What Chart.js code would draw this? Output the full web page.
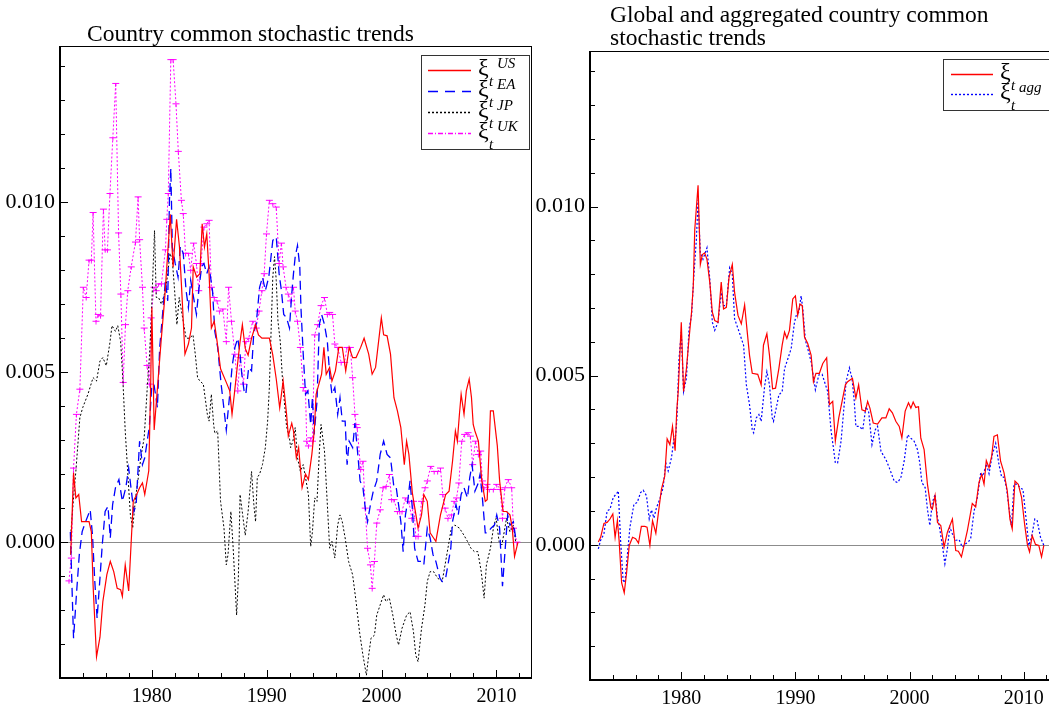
<!DOCTYPE html>
<html>
<head>
<meta charset="utf-8">
<script src="https://cdn.jsdelivr.net/npm/chart.js@4/dist/chart.umd.min.js"></script>
<style>
html, body { margin: 0; padding: 0; background: #fff; overflow: hidden; width: 1049px; height: 709px; position: relative; }
canvas { position: absolute; top: 0; }
#leftchart { left: 0; }
#rightchart { left: 530px; }
</style>
</head>
<body>
<canvas id="leftchart" width="540" height="709"></canvas>
<canvas id="rightchart" width="540" height="709"></canvas>
<script>
// ---- left panel: country common stochastic trends ----
var usYears = [1972.93,1973.18,1973.38,1973.63,1973.88,1974.28,1974.53,1974.73,1974.88,1975.18,
  1975.48,1975.73,1976.08,1976.38,1976.68,1976.98,1977.28,1977.43,1977.68,1977.98,
  1978.38,1978.68,1978.93,1979.18,1979.38,1979.73,1979.9,1980.0,1980.2,1980.5,
  1980.8,1981.1,1981.38,1981.6,1981.85,1982.15,1982.4,1982.6,1982.88,1983.18,
  1983.45,1983.6,1983.9,1984.18,1984.38,1984.58,1984.78,1984.98,1985.18,1985.43,
  1985.68,1985.98,1986.48,1986.78,1986.98,1987.18,1987.48,1987.68,1987.88,1988.13,
  1988.38,1988.68,1989.03,1989.28,1989.58,1989.93,1990.23,1990.53,1990.83,1991.13,
  1991.43,1991.73,1991.88,1992.18,1992.33,1992.58,1992.78,1993.08,1993.38,1993.63,
  1993.93,1994.14,1994.3,1994.78,1994.98,1995.18,1995.48,1995.68,1995.98,1996.28,
  1996.58,1996.88,1997.18,1997.48,1997.78,1998.18,1998.48,1998.88,1999.18,1999.48,
  1999.98,2000.18,2000.48,2000.78,2001.08,2001.38,2001.68,2001.98,2002.18,2002.38,
  2002.68,2003.18,2003.48,2003.68,2003.98,2004.23,2004.53,2004.73,2005.13,2005.58,
  2005.88,2006.18,2006.43,2006.6,2006.78,2006.93,2007.18,2007.38,2007.63,2007.83,
  2007.98,2008.13,2008.43,2008.73,2009.03,2009.2,2009.48,2009.73,2010.08,2010.28,
  2010.58,2010.88,2011.18,2011.38,2011.58,2011.88];
var usVals = [-0.37e-3,2.04e-3,1.3e-3,1.4e-3,0.6e-3,0.6e-3,0.6e-3,0.3e-3,-1.26e-3,-3.38e-3,
  -2.8e-3,-1.75e-3,-0.96e-3,-0.57e-3,-0.87e-3,-1.36e-3,-1.4e-3,-1.6e-3,-0.67e-3,-1.44e-3,
  1.2e-3,1.4e-3,1.6e-3,1.74e-3,1.4e-3,2.1e-3,4.7e-3,6.9e-3,3.3e-3,4.6e-3,
  5.9e-3,7.1e-3,8.5e-3,9.65e-3,8.1e-3,9.5e-3,8.7e-3,7.4e-3,5.53e-3,5.83e-3,
  6.3e-3,8.1e-3,7.8e-3,7.9e-3,9.37e-3,8.68e-3,9.07e-3,7.9e-3,6.3e-3,6.5e-3,
  5.9e-3,5.1e-3,4.7e-3,4.45e-3,3.76e-3,4.35e-3,5.3e-3,5.9e-3,6.4e-3,5.7e-3,
  5.5e-3,6.0e-3,6.4e-3,6.1e-3,6.0e-3,6.0e-3,6.0e-3,5.5e-3,4.8e-3,3.95e-3,
  4.74e-3,3.76e-3,3.12e-3,3.5e-3,3.27e-3,2.48e-3,2.78e-3,1.6e-3,2.0e-3,1.84e-3,
  2.58e-3,3.27e-3,4.35e-3,4.94e-3,5.73e-3,4.94e-3,5.14e-3,4.74e-3,5.04e-3,5.73e-3,
  5.73e-3,5.04e-3,5.73e-3,5.43e-3,5.43e-3,5.73e-3,6.0e-3,5.53e-3,4.94e-3,5.14e-3,
  6.6e-3,6.1e-3,6.07e-3,5.53e-3,4.25e-3,3.86e-3,3.37e-3,2.28e-3,2.97e-3,2.58e-3,
  1.45e-3,0.41e-3,0.8e-3,1.4e-3,1.2e-3,0.27e-3,0.12e-3,0.02e-3,0.8e-3,1.4e-3,
  1.5e-3,2.38e-3,3.27e-3,2.97e-3,3.76e-3,4.35e-3,3.76e-3,4.45e-3,4.8e-3,4.25e-3,
  3.46e-3,3.27e-3,2.97e-3,1.8e-3,1.2e-3,1.25e-3,3.86e-3,3.86e-3,2.83e-3,1.8e-3,
  0.9e-3,0.9e-3,0.8e-3,0.41e-3,-0.42e-3,0];

var eaYears = [1972.9,1973.18,1973.43,1973.68,1973.93,1974.23,1974.63,1974.83,1975.03,1975.23,
  1975.48,1975.68,1975.93,1976.18,1976.38,1976.58,1976.83,1977.13,1977.43,1977.73,
  1977.98,1978.18,1978.43,1978.63,1978.93,1979.18,1979.38,1979.78,1979.98,1980.18,
  1980.48,1980.68,1980.88,1981.18,1981.38,1981.53,1981.65,1981.78,1982.03,1982.28,
  1982.48,1982.73,1982.98,1983.18,1983.38,1983.63,1983.88,1984.08,1984.33,1984.53,
  1984.78,1984.98,1985.28,1985.48,1985.73,1986.03,1986.33,1986.48,1986.78,1986.98,
  1987.23,1987.48,1987.68,1987.83,1988.03,1988.18,1988.43,1988.68,1988.88,1989.08,
  1989.38,1989.63,1989.88,1990.18,1990.53,1990.83,1991.08,1991.28,1991.48,1991.73,
  1991.98,1992.18,1992.33,1992.48,1992.68,1992.88,1992.98,1993.18,1993.38,1993.58,
  1993.83,1993.98,1994.13,1994.38,1994.58,1994.78,1995.03,1995.28,1995.48,1995.68,
  1995.93,1996.18,1996.38,1996.58,1996.83,1997.0,1997.18,1997.48,1997.68,1997.88,
  1998.13,1998.38,1998.58,1998.78,1999.03,1999.28,1999.58,1999.88,2000.18,2000.48,
  2000.78,2001.08,2001.28,2001.48,2001.68,2001.88,2002.08,2002.28,2002.48,2002.68,
  2002.88,2003.18,2003.48,2003.68,2003.98,2004.23,2004.48,2004.73,2005.08,2005.28,
  2005.58,2005.78,2006.03,2006.18,2006.48,2006.68,2006.93,2007.18,2007.48,2007.68,
  2007.88,2008.13,2008.38,2008.58,2008.78,2009.03,2009.23,2009.53,2009.83,2010.03,
  2010.28,2010.53,2010.73,2010.98,2011.18,2011.48,2011.73];
var eaVals = [0.3e-3,-2.83e-3,-1.55e-3,-0.37e-3,0.31e-3,0.6e-3,0.95e-3,0.2e-3,-1.16e-3,-2.24e-3,
  -1.06e-3,-0.08e-3,0.9e-3,1.05e-3,0.12e-3,1.1e-3,1.6e-3,1.84e-3,1.2e-3,1.6e-3,
  2.18e-3,1.6e-3,0.9e-3,1.1e-3,2.97e-3,2.28e-3,2.48e-3,3.4e-3,4.55e-3,4.65e-3,
  3.96e-3,5.73e-3,6.5e-3,7.7e-3,7.1e-3,10.06e-3,11.0e-3,8.68e-3,8.2e-3,7.8e-3,
  8.7e-3,8.5e-3,7.4e-3,6.9e-3,7.7e-3,7.2e-3,6.7e-3,7.4e-3,8.1e-3,8.2e-3,
  7.9e-3,8.1e-3,7.4e-3,6.2e-3,5.73e-3,4.65e-3,3.76e-3,3.3e-3,4.35e-3,5.14e-3,
  5.73e-3,6.0e-3,5.53e-3,4.94e-3,4.45e-3,4.35e-3,5.14e-3,5.04e-3,6.2e-3,6.4e-3,
  7.5e-3,7.8e-3,7.4e-3,7.8e-3,8.88e-3,8.98e-3,7.9e-3,7.4e-3,6.7e-3,6.6e-3,
  6.3e-3,7.3e-3,7.9e-3,8.4e-3,8.73e-3,8.1e-3,6.9e-3,5.53e-3,4.35e-3,4.45e-3,
  3.46e-3,4.25e-3,3.17e-3,4.15e-3,6.4e-3,6.7e-3,6.4e-3,5.9e-3,4.94e-3,4.35e-3,
  4.55e-3,3.76e-3,4.25e-3,3.56e-3,3.56e-3,2.28e-3,2.97e-3,2.78e-3,3.5e-3,2.78e-3,
  1.8e-3,1.6e-3,1.0e-3,0.6e-3,1.1e-3,1.5e-3,1.8e-3,2.58e-3,2.97e-3,2.58e-3,
  2.48e-3,1.6e-3,1.6e-3,1.1e-3,0.6e-3,-0.28e-3,0.8e-3,1.2e-3,1.8e-3,1.0e-3,
  -0.18e-3,-0.57e-3,-0.57e-3,-0.67e-3,0.41e-3,0.12e-3,-0.37e-3,-0.57e-3,-1.06e-3,-1.16e-3,
  -1.06e-3,-0.67e-3,-0.18e-3,0.6e-3,1.1e-3,0.8e-3,1.4e-3,1.6e-3,1.3e-3,1.9e-3,
  2.28e-3,1.5e-3,1.7e-3,2.0e-3,1.3e-3,0.27e-3,0.27e-3,0.41e-3,0.5e-3,0.8e-3,
  0.41e-3,-1.3e-3,-0.37e-3,0.8e-3,0.5e-3,0.6e-3,0];

var jpYears = [1972.93,1973.18,1973.38,1973.73,1973.98,1974.43,1974.88,1975.18,1975.48,1975.73,
  1976.03,1976.33,1976.53,1976.83,1977.03,1977.28,1977.48,1977.68,1977.98,1978.13,
  1978.33,1978.58,1978.78,1979.08,1979.33,1979.6,1979.8,1979.95,1980.1,1980.23,
  1980.38,1980.58,1980.83,1981.18,1981.38,1981.58,1981.78,1981.98,1982.18,1982.38,
  1982.73,1982.98,1983.28,1983.58,1983.78,1983.98,1984.18,1984.48,1984.83,1984.98,
  1985.18,1985.38,1985.48,1985.73,1985.98,1986.28,1986.48,1986.63,1986.88,1987.08,
  1987.38,1987.53,1987.68,1987.83,1988.13,1988.38,1988.68,1988.88,1989.03,1989.18,
  1989.38,1989.63,1989.88,1990.08,1990.23,1990.38,1990.53,1990.68,1990.83,1990.98,
  1991.18,1991.38,1991.58,1991.73,1991.98,1992.08,1992.28,1992.48,1992.68,1992.93,
  1993.18,1993.38,1993.63,1993.83,1993.98,1994.18,1994.38,1994.58,1994.73,1995.03,
  1995.28,1995.48,1995.68,1995.93,1996.18,1996.38,1996.58,1996.83,1997.13,1997.48,
  1997.78,1998.08,1998.38,1998.68,1998.88,1999.08,1999.38,1999.58,1999.88,2000.18,
  2000.38,2000.68,2000.98,2001.28,2001.48,2001.78,2002.18,2002.48,2002.78,2002.98,
  2003.18,2003.48,2003.78,2003.98,2004.23,2004.53,2004.88,2005.28,2005.48,2005.78,
  2006.08,2006.38,2006.78,2007.18,2007.48,2007.78,2008.08,2008.38,2008.68,2008.93,
  2009.13,2009.48,2009.78,2009.98,2010.23,2010.48,2010.68,2010.88,2011.18,2011.48,
  2011.68];
var jpVals = [0.2e-3,1.3e-3,2.08e-3,3.66e-3,3.96e-3,4.35e-3,4.84e-3,4.74e-3,5.33e-3,5.43e-3,
  5.19e-3,5.83e-3,6.37e-3,6.2e-3,6.37e-3,5.9e-3,4.74e-3,3.27e-3,1.6e-3,0.8e-3,
  0.41e-3,1.3e-3,1.8e-3,2.58e-3,3.07e-3,4.55e-3,5.53e-3,6.6e-3,8.0e-3,9.17e-3,
  7.2e-3,7.2e-3,7.0e-3,7.4e-3,7.9e-3,8.5e-3,8.3e-3,7.4e-3,6.4e-3,7.2e-3,
  6.5e-3,6.0e-3,6.0e-3,6.1e-3,5.53e-3,4.84e-3,4.74e-3,4.65e-3,3.76e-3,3.56e-3,
  4.35e-3,3.46e-3,3.2e-3,3.27e-3,1.2e-3,0.41e-3,-0.67e-3,-0.37e-3,0.9e-3,-0.18e-3,
  -2.15e-3,-1.06e-3,1.4e-3,1.0e-3,0.2e-3,0.9e-3,2.08e-3,1.1e-3,0.6e-3,1.9e-3,
  2.0e-3,2.28e-3,2.78e-3,3.56e-3,4.55e-3,6.2e-3,7.8e-3,8.4e-3,7.7e-3,6.5e-3,
  5.9e-3,4.74e-3,3.96e-3,3.4e-3,3.07e-3,2.78e-3,2.97e-3,3.37e-3,2.48e-3,2.08e-3,
  2.28e-3,1.9e-3,1.4e-3,-0.13e-3,0.3e-3,1.3e-3,1.2e-3,2.63e-3,3.46e-3,2.68e-3,
  1.1e-3,-0.18e-3,0.02e-3,-0.47e-3,0.5e-3,0.8e-3,0.6e-3,0.12e-3,-0.57e-3,-0.96e-3,
  -1.75e-3,-2.64e-3,-3.33e-3,-3.92e-3,-3.33e-3,-2.83e-3,-2.74e-3,-2.15e-3,-1.85e-3,-1.55e-3,
  -1.75e-3,-1.65e-3,-2.15e-3,-2.74e-3,-3.03e-3,-2.54e-3,-2.15e-3,-2.05e-3,-2.64e-3,-3.33e-3,
  -3.52e-3,-2.54e-3,-1.85e-3,-1.16e-3,-0.87e-3,-0.87e-3,-1.06e-3,-1.16e-3,-0.77e-3,-0.18e-3,
  0.41e-3,0.5e-3,0.41e-3,0.2e-3,0.02e-3,-0.18e-3,-0.28e-3,-0.28e-3,-0.87e-3,-1.65e-3,
  -0.67e-3,-0.18e-3,0.5e-3,0.7e-3,0.02e-3,-0.08e-3,0.3e-3,0.7e-3,0.3e-3,0.5e-3,
  0];

var ukYears = [1972.78,1972.98,1973.18,1973.43,1973.73,1974.03,1974.28,1974.53,1974.73,1974.88,
  1975.13,1975.33,1975.53,1975.78,1975.93,1976.13,1976.35,1976.6,1976.85,1977.1,
  1977.3,1977.5,1977.7,1977.9,1978.2,1978.57,1978.8,1978.93,1979.18,1979.33,
  1979.58,1979.78,1979.93,1980.18,1980.38,1980.58,1980.83,1981.18,1981.3,1981.43,
  1981.65,1981.85,1982.1,1982.3,1982.57,1982.73,1982.93,1983.18,1983.38,1983.63,
  1983.88,1984.08,1984.28,1984.53,1984.78,1984.98,1985.18,1985.43,1985.68,1985.88,
  1986.18,1986.48,1986.68,1986.93,1987.23,1987.48,1987.68,1987.98,1988.18,1988.43,
  1988.78,1989.08,1989.33,1989.58,1989.78,1989.98,1990.23,1990.53,1990.83,1991.08,
  1991.28,1991.43,1991.68,1991.88,1992.08,1992.33,1992.48,1992.68,1992.93,1993.18,
  1993.38,1993.48,1993.63,1993.83,1993.98,1994.18,1994.43,1994.73,1995.03,1995.28,
  1995.48,1995.73,1995.93,1996.18,1996.48,1996.78,1996.98,1997.28,1997.48,1997.68,
  1997.78,1997.88,1998.18,1998.38,1998.58,1998.78,1999.03,1999.18,1999.38,1999.58,
  1999.88,2000.13,2000.38,2000.68,2000.88,2001.08,2001.38,2001.58,2001.78,2002.08,
  2002.38,2002.63,2002.78,2002.98,2003.18,2003.48,2003.78,2003.98,2004.28,2004.58,
  2004.88,2005.13,2005.33,2005.53,2005.78,2006.08,2006.33,2006.53,2006.73,2006.98,
  2007.23,2007.53,2007.73,2007.93,2008.18,2008.43,2008.63,2008.78,2008.93,2009.18,
  2009.38,2009.73,2010.03,2010.33,2010.53,2010.73,2011.03,2011.33,2011.48,2011.78];
var ukVals = [-1.14e-3,-0.47e-3,2.18e-3,3.76e-3,4.5e-3,7.5e-3,7.2e-3,8.3e-3,8.3e-3,9.7e-3,
  6.5e-3,6.7e-3,6.66e-3,9.8e-3,8.6e-3,8.6e-3,10.26e-3,11.9e-3,13.5e-3,9.1e-3,
  7.3e-3,4.7e-3,6.4e-3,7.4e-3,8.1e-3,8.83e-3,10.16e-3,8.9e-3,7.5e-3,6.3e-3,
  5.2e-3,4.65e-3,6.6e-3,7.5e-3,7.4e-3,7.6e-3,7.6e-3,8.6e-3,9.5e-3,10.26e-3,
  14.2e-3,14.2e-3,12.9e-3,11.5e-3,10.06e-3,9.67e-3,8.5e-3,8.5e-3,8.0e-3,8.8e-3,
  8.2e-3,7.4e-3,8.2e-3,9.27e-3,9.37e-3,9.47e-3,7.5e-3,7.2e-3,7.1e-3,6.8e-3,
  6.86e-3,5.9e-3,7.5e-3,6.5e-3,5.53e-3,4.45e-3,5.43e-3,4.65e-3,5.9e-3,6.0e-3,
  6.5e-3,6.3e-3,6.8e-3,7.4e-3,7.9e-3,9.07e-3,10.06e-3,9.96e-3,9.86e-3,8.2e-3,
  8.8e-3,8.1e-3,7.5e-3,7.3e-3,7.1e-3,7.5e-3,6.8e-3,6.5e-3,5.73e-3,4.55e-3,
  4.45e-3,2.97e-3,2.83e-3,3.07e-3,2.97e-3,6.1e-3,6.4e-3,6.96e-3,7.2e-3,6.7e-3,
  6.76e-3,6.7e-3,5.83e-3,5.73e-3,5.29e-3,5.29e-3,5.73e-3,5.73e-3,4.84e-3,3.76e-3,
  3.46e-3,3.37e-3,2.14e-3,2.38e-3,1.0e-3,-0.18e-3,-0.67e-3,-1.36e-3,-0.57e-3,0.56e-3,
  0.95e-3,1.6e-3,1.64e-3,1.99e-3,1.25e-3,1.25e-3,0.9e-3,0.9e-3,0.9e-3,1.3e-3,
  1.2e-3,0.7e-3,1.2e-3,0.17e-3,0.17e-3,1.2e-3,1.6e-3,1.8e-3,2.23e-3,2.08e-3,
  2.08e-3,2.18e-3,1.4e-3,1.0e-3,0.7e-3,0.8e-3,1.2e-3,1.3e-3,1.74e-3,2.97e-3,
  3.17e-3,3.22e-3,3.12e-3,2.28e-3,2.97e-3,2.58e-3,2.68e-3,1.8e-3,1.6e-3,1.7e-3,
  1.55e-3,1.55e-3,1.7e-3,1.55e-3,0.7e-3,1.6e-3,1.84e-3,1.6e-3,0.41e-3,0];

// ---- right panel: global and aggregated country trends ----
var globYears = [1972.73,1972.93,1973.22,1973.5,1973.75,1974.0,1974.2,1974.4,1974.55,1974.77,
  1975.0,1975.2,1975.44,1975.73,1976.0,1976.25,1976.5,1976.8,1977.0,1977.25,
  1977.48,1977.77,1978.0,1978.26,1978.55,1978.76,1979.0,1979.23,1979.46,1979.6,
  1979.73,1980.0,1980.2,1980.45,1980.68,1980.9,1981.05,1981.18,1981.47,1981.67,
  1981.85,1982.05,1982.25,1982.5,1982.72,1982.93,1983.22,1983.5,1983.7,1983.95,
  1984.18,1984.47,1984.67,1984.97,1985.26,1985.55,1985.75,1985.98,1986.22,1986.7,
  1987.0,1987.2,1987.5,1987.73,1988.0,1988.26,1988.55,1988.84,1989.05,1989.25,
  1989.48,1989.77,1990.0,1990.2,1990.4,1990.6,1990.8,1991.08,1991.38,1991.58,
  1991.8,1992.1,1992.4,1992.74,1992.98,1993.27,1993.5,1993.8,1994.09,1994.38,
  1994.58,1995.0,1995.3,1995.54,1995.83,1996.13,1996.33,1996.53,1996.82,1997.2,
  1997.58,1997.93,1998.22,1998.5,1998.8,1999.1,1999.33,1999.62,1999.91,2000.12,
  2000.32,2000.55,2000.79,2000.99,2001.28,2001.57,2001.87,2002.0,2002.24,2002.45,
  2002.74,2003.03,2003.32,2003.76,2004.05,2004.28,2004.55,2004.78,2005.07,2005.5,
  2005.8,2006.09,2006.32,2006.53,2006.73,2006.97,2007.2,2007.4,2007.7,2007.98,
  2008.28,2008.57,2008.8,2009.0,2009.24,2009.53,2009.82,2010.1,2010.34,2010.52,
  2010.75,2011.04,2011.33,2011.57,2011.77];
var globVals = [0.08e-3,0.22e-3,0.63e-3,0.66e-3,0.76e-3,0.91e-3,0.22e-3,0.71e-3,0.13e-3,-1.12e-3,
  -1.42e-3,-0.85e-3,-0.02e-3,0.22e-3,0.18e-3,0.05e-3,0.54e-3,0.54e-3,0.52e-3,-0.02e-3,
  0.71e-3,0.34e-3,0.96e-3,1.64e-3,2.03e-3,3.13e-3,2.96e-3,3.5e-3,2.78e-3,3.95e-3,
  4.53e-3,6.58e-3,4.53e-3,5.21e-3,6.1e-3,6.88e-3,7.66e-3,9.32e-3,10.63e-3,8.29e-3,
  8.58e-3,8.63e-3,8.44e-3,7.75e-3,6.88e-3,6.63e-3,6.58e-3,7.77e-3,6.97e-3,7.02e-3,
  7.9e-3,8.29e-3,7.46e-3,6.78e-3,6.53e-3,7.09e-3,6.39e-3,5.6e-3,5.07e-3,5.04e-3,
  4.73e-3,5.9e-3,6.24e-3,5.6e-3,4.61e-3,4.63e-3,5.21e-3,5.9e-3,6.29e-3,6.1e-3,
  6.34e-3,7.27e-3,7.36e-3,6.78e-3,7.12e-3,7.07e-3,6.14e-3,5.95e-3,5.6e-3,4.82e-3,
  5.07e-3,5.07e-3,5.36e-3,5.53e-3,4.14e-3,4.24e-3,3.07e-3,3.75e-3,4.24e-3,4.73e-3,
  4.82e-3,4.92e-3,4.34e-3,4.73e-3,3.99e-3,3.95e-3,4.24e-3,4.04e-3,3.6e-3,3.57e-3,
  3.75e-3,3.75e-3,4.02e-3,3.9e-3,3.65e-3,3.5e-3,3.16e-3,3.95e-3,4.2e-3,4.04e-3,
  4.22e-3,4.06e-3,4.08e-3,3.15e-3,2.81e-3,1.79e-3,1.1e-3,1.05e-3,1.45e-3,0.66e-3,
  0.57e-3,-0.07e-3,0.37e-3,0.76e-3,-0.17e-3,-0.19e-3,-0.36e-3,-0.02e-3,0.42e-3,1.22e-3,
  1.12e-3,1.84e-3,2.08e-3,1.79e-3,2.49e-3,2.28e-3,2.62e-3,3.2e-3,3.25e-3,2.47e-3,
  2.13e-3,1.59e-3,0.76e-3,0.47e-3,1.88e-3,1.79e-3,1.4e-3,0.57e-3,-0.02e-3,-0.21e-3,
  0.27e-3,0.01e-3,-0.02e-3,-0.36e-3,-0.02e-3];

var aggYears = [1972.73,1972.93,1973.22,1973.5,1973.75,1974.04,1974.33,1974.48,1974.68,1974.9,
  1975.06,1975.26,1975.5,1975.85,1976.14,1976.43,1976.66,1976.95,1977.19,1977.39,
  1977.6,1977.83,1978.12,1978.41,1978.64,1978.85,1979.14,1979.34,1979.52,1979.63,
  1979.8,1980.0,1980.2,1980.45,1980.68,1980.9,1981.1,1981.32,1981.47,1981.67,
  1981.9,1982.25,1982.5,1982.72,1982.93,1983.22,1983.5,1983.7,1983.95,1984.24,
  1984.47,1984.67,1984.97,1985.26,1985.46,1985.7,1985.98,1986.22,1986.34,1986.57,
  1986.8,1987.0,1987.3,1987.5,1987.73,1987.97,1988.08,1988.32,1988.55,1988.84,
  1989.05,1989.34,1989.63,1989.92,1990.07,1990.3,1990.5,1990.65,1990.88,1991.08,
  1991.38,1991.75,1992.05,1992.34,1992.55,1992.83,1993.13,1993.33,1993.5,1993.7,
  1994.0,1994.29,1994.44,1994.73,1994.96,1995.16,1995.3,1995.6,1995.9,1996.18,
  1996.42,1996.71,1997.0,1997.2,1997.5,1997.93,1998.22,1998.66,1998.95,1999.24,
  1999.53,1999.83,2000.12,2000.41,2000.7,2000.9,2001.08,2001.37,2001.57,2001.78,
  2002.0,2002.24,2002.45,2002.65,2002.9,2003.1,2003.32,2003.53,2003.76,2004.05,
  2004.34,2004.63,2004.92,2005.15,2005.36,2005.66,2005.95,2006.24,2006.44,2006.73,
  2006.97,2007.26,2007.55,2007.84,2008.07,2008.28,2008.49,2008.71,2008.94,2009.15,
  2009.44,2009.73,2009.94,2010.17,2010.46,2010.69,2010.98,2011.19,2011.48,2011.77];
var aggVals = [-0.12e-3,0.13e-3,0.32e-3,1.0e-3,1.05e-3,1.4e-3,1.51e-3,1.59e-3,0.13e-3,-1.05e-3,
  -1.12e-3,-0.36e-3,0.52e-3,1.2e-3,1.25e-3,1.54e-3,1.61e-3,1.45e-3,0.76e-3,1.03e-3,
  0.79e-3,1.1e-3,1.35e-3,1.69e-3,2.42e-3,2.18e-3,2.57e-3,3.1e-3,3.25e-3,3.85e-3,
  5.5e-3,6.29e-3,4.53e-3,4.92e-3,6.39e-3,6.78e-3,7.95e-3,9.02e-3,10.2e-3,8.63e-3,
  8.44e-3,8.78e-3,7.85e-3,6.58e-3,6.34e-3,6.58e-3,7.46e-3,7.07e-3,7.07e-3,8.19e-3,
  8.0e-3,6.68e-3,6.39e-3,6.1e-3,5.9e-3,4.73e-3,4.14e-3,3.4e-3,3.31e-3,3.75e-3,
  3.85e-3,3.65e-3,4.68e-3,5.12e-3,4.73e-3,3.75e-3,3.65e-3,4.04e-3,4.43e-3,4.53e-3,
  5.21e-3,5.5e-3,5.8e-3,6.58e-3,6.78e-3,6.88e-3,7.36e-3,6.97e-3,6.04e-3,5.8e-3,
  5.41e-3,4.58e-3,5.02e-3,5.04e-3,4.82e-3,4.53e-3,3.36e-3,2.87e-3,2.42e-3,2.42e-3,
  3.06e-3,4.2e-3,4.82e-3,5.23e-3,4.92e-3,4.24e-3,3.5e-3,3.5e-3,3.4e-3,4.08e-3,
  3.93e-3,2.96e-3,3.4e-3,3.5e-3,2.76e-3,2.52e-3,2.28e-3,1.88e-3,1.84e-3,1.98e-3,
  2.47e-3,3.25e-3,3.15e-3,3.06e-3,2.81e-3,2.42e-3,1.84e-3,1.69e-3,1.05e-3,0.57e-3,
  1.25e-3,1.49e-3,0.81e-3,0.47e-3,-0.07e-3,-0.56e-3,-0.12e-3,0.52e-3,0.32e-3,0.13e-3,
  0.15e-3,-0.07e-3,0.03e-3,0.08e-3,0.18e-3,1.0e-3,1.4e-3,2.13e-3,2.03e-3,2.39e-3,
  2.1e-3,2.67e-3,3.0e-3,2.37e-3,2.0e-3,2.0e-3,1.69e-3,1.1e-3,0.52e-3,1.79e-3,
  1.79e-3,1.67e-3,1.64e-3,0.91e-3,-0.02e-3,0.22e-3,0.76e-3,0.71e-3,0.22e-3,-0.02e-3];

// labelled ticks
var yearTicks = [1980, 1990, 2000, 2010];
var valueTicks = [0, 0.005, 0.010];

Chart.defaults.font.family = '"Liberation Serif", "Times New Roman", serif';
Chart.defaults.color = '#000';

function pts(xs, ys) {
  return xs.map(function (x, i) { return {x: x, y: ys[i]}; });
}

// small "T" marker used on the UK series
var tee = document.createElement('canvas');
tee.width = 9; tee.height = 7;
var tc = tee.getContext('2d');
tc.strokeStyle = '#ff00ff';
tc.lineWidth = 1;
tc.beginPath();
tc.moveTo(1, 3.5); tc.lineTo(8, 3.5);
tc.moveTo(4.5, 3.5); tc.lineTo(4.5, 6.5);
tc.stroke();

// frame, inner ticks, zero line, title and the legend with its sub/superscripts
var decor = {
  id: 'decor',
  beforeDatasetsDraw: function (chart, args, o) {
    var ctx = chart.ctx, a = chart.chartArea;
    var y0 = Math.round(chart.scales.y.getPixelForValue(0)) + 0.5;
    ctx.save();
    ctx.strokeStyle = '#8c8c8c';
    ctx.lineWidth = 1;
    ctx.beginPath();
    ctx.moveTo(a.left, y0); ctx.lineTo(a.right, y0);
    ctx.stroke();
    ctx.restore();
  },
  afterDraw: function (chart, args, o) {
    var ctx = chart.ctx, a = chart.chartArea;
    var xs = chart.scales.x, ys = chart.scales.y;
    var off = o.offset;
    ctx.save();
    ctx.strokeStyle = '#000';
    ctx.lineWidth = 1;
    ctx.strokeRect(a.left, a.top + 0.5, a.right - a.left - 0.5, a.bottom - a.top);
    ctx.lineWidth = 2;
    ctx.beginPath();
    ctx.moveTo(a.left, a.top); ctx.lineTo(a.left, a.bottom); ctx.lineTo(a.right, a.bottom);
    ctx.stroke();

    ctx.lineWidth = 1;
    ctx.beginPath();
    for (var yr = 1974; yr <= 2012; yr += 2) {
      var px = Math.round(xs.getPixelForValue(yr)) + 0.5;
      ctx.moveTo(px, a.bottom); ctx.lineTo(px, a.bottom - (yr % 10 === 0 ? 8 : 5));
    }
    for (var k = -4; k <= 14; k++) {
      var py = Math.round(ys.getPixelForValue(k / 1000)) + 0.5;
      ctx.moveTo(a.left, py); ctx.lineTo(a.left + (k % 5 === 0 ? 8 : 5), py);
    }
    ctx.stroke();

    ctx.fillStyle = '#000';
    ctx.font = '23.5px "Liberation Serif"';
    o.title.forEach(function (t) { ctx.fillText(t.text, t.x - off, t.y); });

    var L = o.legend;
    ctx.fillStyle = '#fff';
    ctx.fillRect(L.box[0] - off, L.box[1], L.box[2] - L.box[0], L.box[3] - L.box[1]);
    ctx.strokeStyle = '#333';
    ctx.strokeRect(L.box[0] - off + 0.5, L.box[1] + 0.5, L.box[2] - L.box[0], L.box[3] - L.box[1]);
    L.rows.forEach(function (r) {
      ctx.strokeStyle = r.color;
      ctx.lineWidth = 1.4;
      ctx.setLineDash(r.dash);
      ctx.beginPath();
      ctx.moveTo(L.line[0] - off, r.cy + 0.5); ctx.lineTo(L.line[1] - off, r.cy + 0.5);
      ctx.stroke();
      ctx.setLineDash([]);
      ctx.fillStyle = '#000';
      ctx.font = '24px "Liberation Serif"';
      ctx.fillText('\u03BE', L.xi - off, r.cy + 5);
      ctx.font = 'italic 15px "Liberation Serif"';
      if (r.sup) ctx.fillText(r.sup, L.xi + 19 - off, r.cy - 2);
      ctx.fillText('t', L.xi + 11 - off, r.cy + 16);
    });
    ctx.restore();
  }
};

function makeOptions(top, bottomH, rightPad, decorOpts) {
  return {
    responsive: false,
    animation: false,
    layout: {padding: {top: top, right: rightPad, bottom: 0, left: 0}},
    plugins: {legend: {display: false}, title: {display: false}, tooltip: {enabled: false}, decor: decorOpts},
    elements: {line: {tension: 0}, point: {radius: 0}},
    scales: {
      x: {
        type: 'linear', min: 1972, max: 2013.1,
        grid: {display: false, drawTicks: false},
        border: {display: false},
        afterBuildTicks: function (s) { s.ticks = yearTicks.map(function (v) { return {value: v}; }); },
        ticks: {autoSkip: false, maxRotation: 0, padding: 7, font: {size: 20},
          callback: function (v) { return String(v); }},
        afterFit: function (s) { s.height = bottomH; }
      },
      y: {
        type: 'linear', min: -0.004, max: 0.0146,
        grid: {display: false, drawTicks: false},
        border: {display: false},
        afterBuildTicks: function (s) { s.ticks = valueTicks.map(function (v) { return {value: v}; }); },
        ticks: {autoSkip: false, padding: 5, font: {size: 22},
          callback: function (v) { return v.toFixed(3); }},
        afterFit: function (s) { s.width = 60; }
      }
    }
  };
}

var leftchart = new Chart(document.getElementById('leftchart').getContext('2d'), {
  type: 'line',
  data: {
    datasets: [
      {label: 'US', data: pts(usYears, usVals), borderColor: '#ff0000', borderWidth: 1.2, pointRadius: 0},
      {label: 'EA', data: pts(eaYears, eaVals), borderColor: '#0000ff', borderWidth: 1.3, borderDash: [9, 5], pointRadius: 0},
      {label: 'JP', data: pts(jpYears, jpVals), borderColor: '#000000', borderWidth: 1, borderDash: [2, 2], pointRadius: 0},
      {label: 'UK', data: pts(ukYears, ukVals), borderColor: '#ff00ff', borderWidth: 1, borderDash: [2, 2],
        pointStyle: tee, pointRadius: 3}
    ]
  },
  options: makeOptions(46, 31, 8, {
    offset: 0,
    title: [{text: 'Country common stochastic trends', x: 87, y: 41}],
    legend: {
      box: [421, 55, 529, 149], line: [428, 471], xi: 478,
      rows: [
        {color: '#ff0000', dash: [], cy: 70, sup: 'US'},
        {color: '#0000ff', dash: [10, 7], cy: 91, sup: 'EA'},
        {color: '#000000', dash: [2, 2], cy: 112, sup: 'JP'},
        {color: '#ff00ff', dash: [5, 2, 1, 2], cy: 133, sup: 'UK'}
      ]
    }
  }),
  plugins: [decor]
});

var rightchart = new Chart(document.getElementById('rightchart').getContext('2d'), {
  type: 'line',
  data: {
    datasets: [
      {label: 'global', data: pts(globYears, globVals), borderColor: '#ff0000', borderWidth: 1.2, pointRadius: 0},
      {label: 'agg', data: pts(aggYears, aggVals), borderColor: '#0000ff', borderWidth: 1.2, borderDash: [2, 2], pointRadius: 0}
    ]
  },
  options: makeOptions(51, 29, 11, {
    offset: 530,
    title: [
      {text: 'Global and aggregated country common', x: 610, y: 22},
      {text: 'stochastic trends', x: 610, y: 45}
    ],
    legend: {
      box: [943, 59, 1065, 110], line: [951, 993], xi: 1000,
      rows: [
        {color: '#ff0000', dash: [], cy: 74, sup: ''},
        {color: '#0000ff', dash: [2, 2], cy: 94, sup: 'agg'}
      ]
    }
  }),
  plugins: [decor]
});
</script>
</body>
</html>
